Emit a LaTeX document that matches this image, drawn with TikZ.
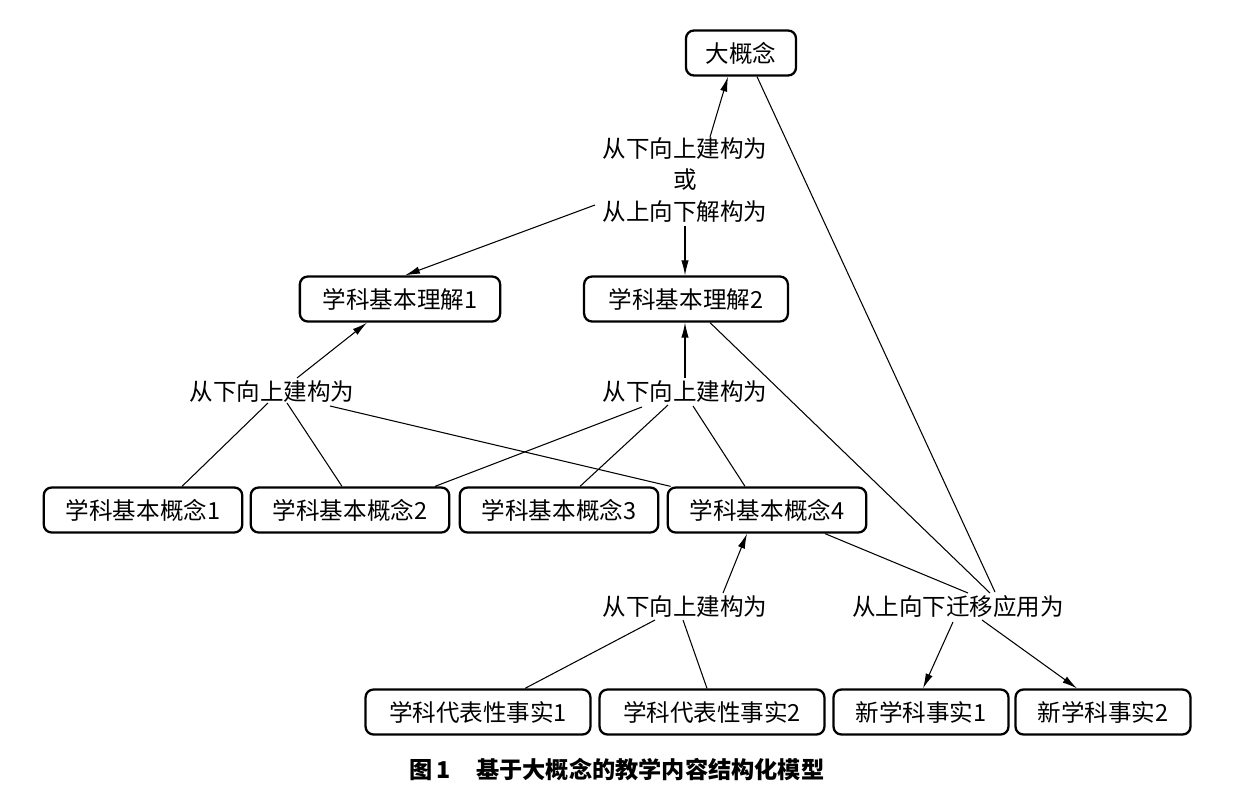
\documentclass[tikz,border=0pt]{standalone}
\usepackage{fontspec}
\setmainfont{Noto Sans CJK SC}
\usetikzlibrary{arrows.meta,positioning,calc}

\begin{document}
\begin{tikzpicture}[x=0.02cm, y=-0.02cm,
  box/.style={draw, rounded corners=4.5pt, line width=1.3pt, minimum height=25.6pt, inner xsep=0pt, inner ysep=0pt, font=\fontsize{13.4}{16}\selectfont},
  lbl/.style={inner sep=0pt, align=center, font=\fontsize{13.4}{17.8}\selectfont},
  link/.style={line width=0.6pt},
  arr/.style={link, -{Latex[length=8.5pt,width=4.2pt]}}]
\useasboundingbox (0,0) rectangle (1233,811);

% Nodes
\node[box, minimum width=62.6pt] (big) at (741,53) {大概念};
\node[box, minimum width=114pt] (u1) at (400,299) {学科基本理解1};
\node[box, minimum width=116pt] (u2) at (686,299) {学科基本理解2};
\node[box, minimum width=113pt] (c1) at (143,510) {学科基本概念1};
\node[box, minimum width=113pt] (c2) at (350,510) {学科基本概念2};
\node[box, minimum width=113pt] (c3) at (559,510) {学科基本概念3};
\node[box, minimum width=113pt] (c4) at (767,510) {学科基本概念4};
\node[box, minimum width=128pt] (f1) at (478,712) {学科代表性事实1};
\node[box, minimum width=128pt] (f2) at (712,712) {学科代表性事实2};
\node[box, minimum width=99.6pt] (n1) at (921,712) {新学科事实1};
\node[box, minimum width=99.6pt] (n2) at (1103,712) {新学科事实2};

% Labels
\node[lbl] (lmix) at (685,180) {从下向上建构为\\或\\从上向下解构为};
\node[lbl] (lu1) at (272,392) {从下向上建构为};
\node[lbl] (lu2) at (685,392) {从下向上建构为};
\node[lbl] (lc4) at (685,607) {从下向上建构为};
\node[lbl] (lnew) at (958,607) {从上向下迁移应用为};
\node[inner sep=0pt, font=\fontsize{13.2}{15}\selectfont\bfseries] (cap) at (617,770) {图\,1\hspace{1.1em}基于大概念的教学内容结构化模型};

% Edges
\draw[arr] ($(lmix)+(25,-43)$) -- ($(big.south)+(-13,0)$);
\draw[arr] ($(lmix)+(-90,25)$) -- ($(u1.north)+(5,0)$);
\draw[arr] ($(lmix)+(0,46)$) -- ($(u2.north)+(-1,0)$);
\draw[link] ($(big.south)+(16,0)$) -- ($(lnew)+(37,-15)$);
\draw[link] ($(u2.south)+(24,0)$) -- ($(lnew)+(32,-14)$);
\draw[link] ($(c4.south)+(58,0)$) -- ($(lnew)+(10,-14)$);
\draw[arr] ($(lnew)+(-5,15)$) -- ($(n1.north)+(2,0)$);
\draw[arr] ($(lnew)+(24,13)$) -- ($(n2.north)+(-26,0)$);

\draw[arr] ($(lu1)+(25,-14)$) -- ($(u1.south)+(-33,0)$);
\draw[link] ($(c1.north)+(39,0)$) -- ($(lu1)+(-4,11)$);
\draw[link] ($(c2.north)+(-8,0)$) -- ($(lu1)+(15,11)$);
\draw[link] ($(lu1)+(58,14)$) -- ($(c4.north west)+(4,0)$);

\draw[arr] ($(lu2)+(0,-14)$) -- (u2.south -| lu2);
\draw[link] ($(c2.north)+(85,0)$) -- ($(lu2)+(-43,15)$);
\draw[link] ($(c3.north)+(21,0)$) -- ($(lu2)+(-17,13)$);
\draw[link] ($(c4.north)+(-22,0)$) -- ($(lu2)+(8,14)$);

\draw[arr] ($(lc4)+(38,-14)$) -- ($(c4.south)+(-20,0)$);
\draw[link] ($(f1.north)+(47,0)$) -- ($(lc4)+(-30,13)$);
\draw[link] ($(f2.north)+(-5,0)$) -- ($(lc4)+(-2,13)$);

\end{tikzpicture}
\end{document}
